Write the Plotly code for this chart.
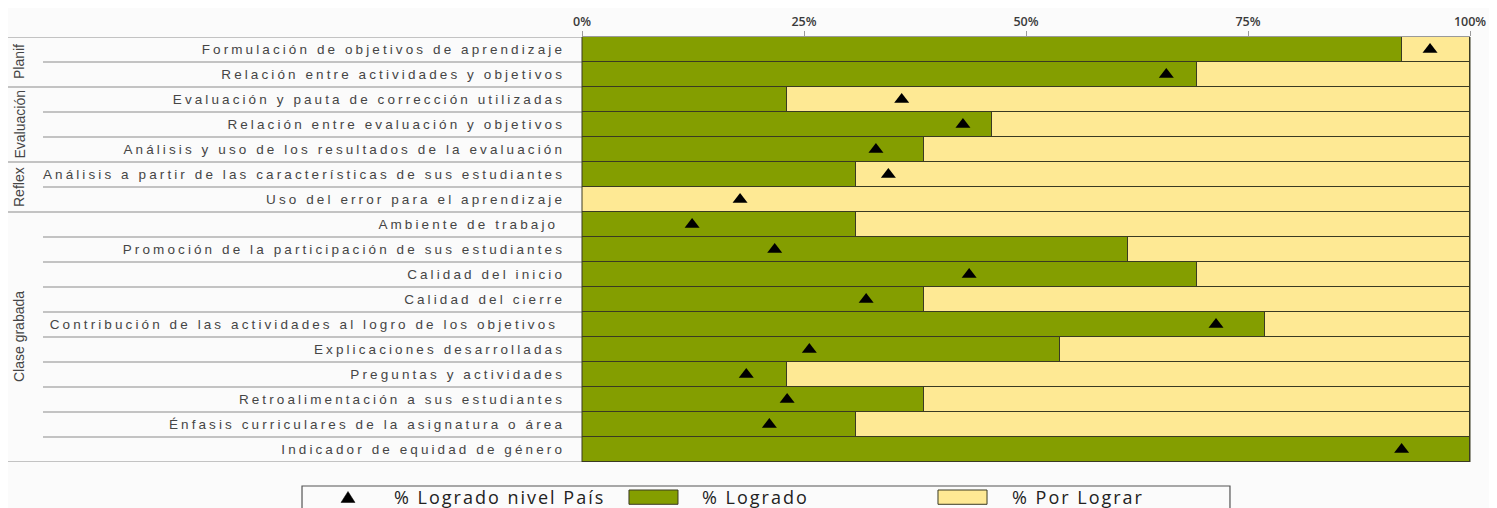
import plotly.graph_objects as go

categories = [
    "Formulación de objetivos de aprendizaje",
    "Relación entre actividades y objetivos",
    "Evaluación y pauta de corrección utilizadas",
    "Relación entre evaluación y objetivos",
    "Análisis y uso de los resultados de la evaluación",
    "Análisis a partir de las características de sus estudiantes",
    "Uso del error para el aprendizaje",
    "Ambiente de trabajo ",
    "Promoción de la participación de sus estudiantes",
    "Calidad del inicio",
    "Calidad del cierre",
    "Contribución de las actividades al logro de los objetivos ",
    "Explicaciones desarrolladas",
    "Preguntas y actividades",
    "Retroalimentación a sus estudiantes",
    "Énfasis curriculares de la asignatura o área",
    "Indicador de equidad de género",
]
logrado = [92.3, 69.2, 23.1, 46.2, 38.5, 30.8, 0.0, 30.8, 61.5, 69.2, 38.5, 76.9, 53.8, 23.1, 38.5, 30.8, 100.0]
por_lograr = [round(100 - v, 1) for v in logrado]
pais = [95.5, 65.8, 36.0, 42.9, 33.1, 34.5, 17.8, 12.4, 21.7, 43.6, 32.0, 71.4, 25.6, 18.5, 23.1, 21.1, 92.3]

groups = ["Planif", "Evaluación", "Reflex", "Clase grabada"]
group_sizes = [2, 3, 2, 10]

tick_vals = [0, 25, 50, 75, 100]
tick_text = ["0%", "25%", "50%", "75%", "100%"]

legend_names = ["% Logrado nivel País", "% Logrado", "% Por Lograr"]

GREEN = "#849E00"
YELLOW = "#FEE994"
EDGE = "#3A3A22"
LABEL = "#454545"
GRID = "#8C8C8C"
BG = "#FBFBFB"

fig = go.Figure()
fig.add_trace(go.Bar(
    x=logrado, y=categories, orientation="h", name=legend_names[1],
    marker=dict(color=GREEN, line=dict(color=EDGE, width=1)),
))
fig.add_trace(go.Bar(
    x=por_lograr, y=categories, orientation="h", name=legend_names[2],
    marker=dict(color=YELLOW, line=dict(color=EDGE, width=1)),
))
fig.add_trace(go.Scatter(
    x=pais, y=categories, mode="markers", name=legend_names[0],
    marker=dict(symbol="triangle-up", size=13, color="black"),
))

n = len(categories)
shapes = []
start = 0
for size in group_sizes:
    for k in range(size):
        top = start + k - 0.5
        x0 = -0.652 if k == 0 else -0.607
        shapes.append(dict(type="line", xref="paper", yref="y", x0=x0, x1=0, y0=top, y1=top,
                           line=dict(color=GRID, width=1.2), layer="above"))
    start += size
shapes.append(dict(type="line", xref="paper", yref="y", x0=-0.652, x1=0, y0=n - 0.5, y1=n - 0.5,
                   line=dict(color=GRID, width=1.2), layer="above"))
shapes.append(dict(type="line", xref="paper", yref="paper", x0=0, x1=0, y0=0, y1=1,
                   line=dict(color=EDGE, width=1)))
shapes.append(dict(type="line", xref="paper", yref="paper", x0=1, x1=1, y0=0, y1=1,
                   line=dict(color=EDGE, width=1)))

annotations = []
start = 0
for g, size in zip(groups, group_sizes):
    center = start + (size - 1) / 2
    annotations.append(dict(text=g, xref="paper", yref="y", x=-0.634, y=center, textangle=-90,
                            showarrow=False, font=dict(family="Liberation Sans", size=14, color=LABEL),
                            xanchor="center", yanchor="middle"))
    start += size

# custom legend (box, symbols, texts)
leg_y = -0.0835
shapes.append(dict(type="rect", xref="paper", yref="paper", x0=-0.3153, x1=0.7297, y0=-0.0565, y1=-0.13,
                   line=dict(color="#555555", width=1.2), fillcolor=BG, layer="above"))
shapes.append(dict(type="path", xref="paper", yref="paper", xsizemode="pixel", ysizemode="pixel",
                   xanchor=-0.2635, yanchor=leg_y, path="M-7,-5 L7,-5 L0,6 Z",
                   fillcolor="black", line=dict(color="black", width=0.5), layer="above"))
shapes.append(dict(type="rect", xref="paper", yref="paper", x0=0.0529, x1=0.1081, y0=-0.0659, y1=-0.0995,
                   fillcolor=GREEN, line=dict(color=EDGE, width=1), layer="above"))
shapes.append(dict(type="rect", xref="paper", yref="paper", x0=0.4009, x1=0.4561, y0=-0.0659, y1=-0.0995,
                   fillcolor=YELLOW, line=dict(color=EDGE, width=1), layer="above"))
for txt, xl in zip(legend_names, [-0.2140, 0.1329, 0.4820]):
    annotations.append(dict(text='<span style="letter-spacing:2px">' + txt + '</span>',
                            xref="paper", yref="paper", x=xl, y=leg_y,
                            xanchor="left", yanchor="middle", showarrow=False,
                            font=dict(family="Open Sans", size=18, color="#222222")))

styled_labels = ['<span style="letter-spacing:3.1px">' + c + '</span>' for c in categories]

fig.update_layout(
    width=1489, height=500,
    margin=dict(l=574, r=27, t=29, b=46, autoexpand=False),
    barmode="stack", bargap=0,
    paper_bgcolor=BG, plot_bgcolor=BG,
    shapes=shapes, annotations=annotations,
    showlegend=False,
    xaxis=dict(side="top", range=[0, 100], tickvals=tick_vals, ticktext=tick_text,
               showgrid=False, zeroline=False, showline=True, linecolor="#9A9A9A", linewidth=1,
               ticks="outside", ticklen=5, tickcolor="#9A9A9A", automargin=False,
               tickfont=dict(family="Open Sans", size=12.5, color="#3A3A3A", weight=600)),
    yaxis=dict(range=[n - 0.5, -0.5], showgrid=False, zeroline=False, showline=False,
               ticks="", ticklabelstandoff=16, automargin=False,
               tickmode="array", tickvals=categories, ticktext=styled_labels,
               tickfont=dict(family="Liberation Sans", size=13.5, color=LABEL)),
)

fig.write_html("out.html")
